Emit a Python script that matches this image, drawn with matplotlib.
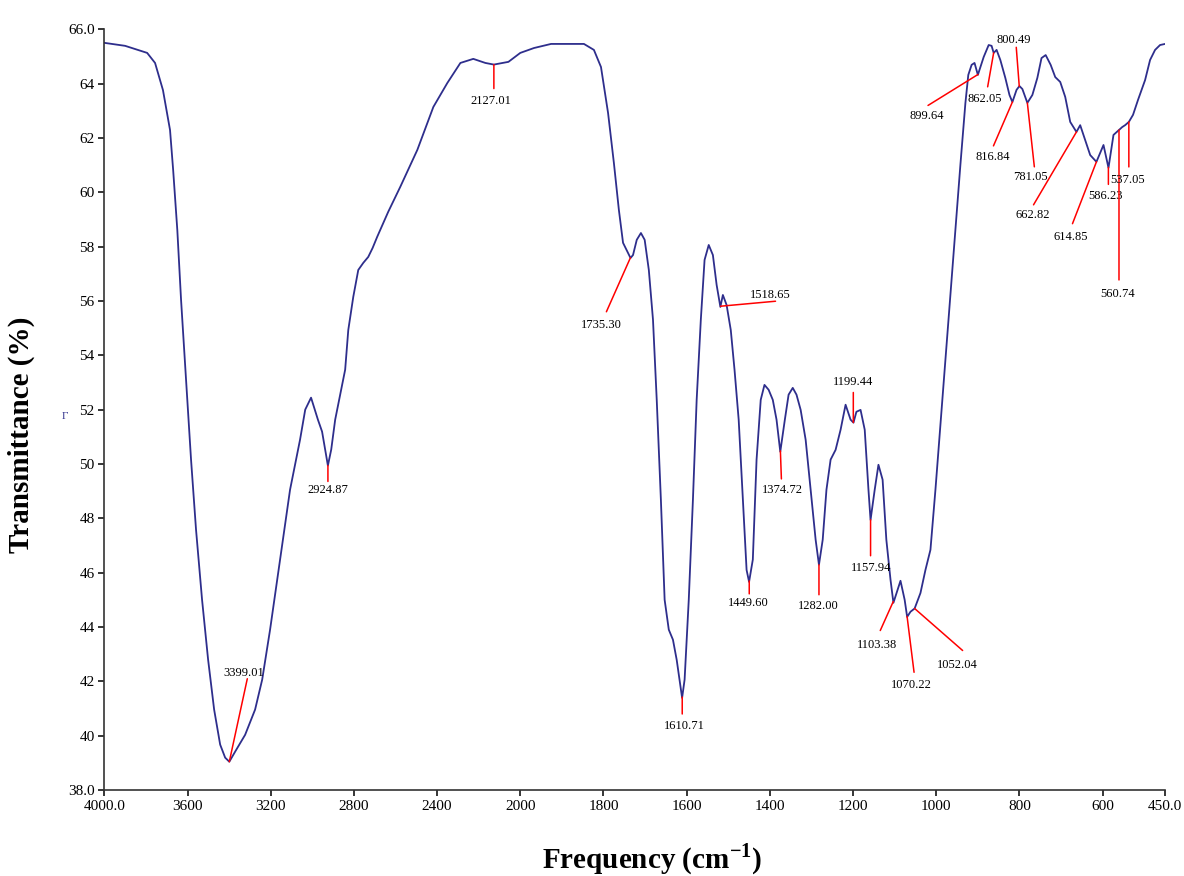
import matplotlib
matplotlib.use('Agg')
import matplotlib.pyplot as plt
import numpy as np

# spectre FTIR (nombre d'onde en cm-1, transmittance en %)
wavenumber = [4000, 3900, 3794, 3756, 3718, 3684, 3669, 3649, 3631, 3607, 3583, 3559,
              3530, 3501, 3472, 3443, 3419, 3399, 3371, 3323, 3275, 3241, 3203, 3155,
              3107, 3059, 3034, 3006, 2973, 2953, 2934, 2925, 2909, 2890, 2866, 2842,
              2827, 2803, 2779, 2755, 2731, 2710, 2688, 2635, 2577, 2495, 2418, 2351,
              2288, 2226, 2168, 2127, 2057, 2000, 1967, 1926, 1847, 1823, 1806, 1789,
              1775, 1763, 1753,
              1735, 1729, 1720, 1710, 1701, 1691, 1681, 1672, 1662, 1653, 1643, 1633,
              1624, 1611, 1605, 1595, 1585, 1576, 1566, 1557, 1547, 1537, 1528, 1519,
              1513, 1504, 1494, 1485, 1475, 1465, 1456, 1450, 1441, 1432, 1422, 1413,
              1403, 1393, 1384, 1375, 1364, 1355, 1345, 1336, 1326, 1314, 1302, 1290,
              1282, 1273, 1264, 1254, 1242, 1230, 1218, 1206, 1199, 1192, 1182, 1172,
              1163, 1158, 1148, 1139, 1129, 1120, 1110, 1103, 1093, 1086, 1076, 1070,
              1062, 1052, 1038, 1026, 1014, 1002, 990, 978, 966, 954, 942, 930,
              923, 915, 908, 900, 886, 874, 867, 862, 855, 846, 834, 824,
              817, 807, 800, 793, 781, 769, 757, 747, 737, 725, 714, 702,
              690, 678, 663, 654, 642, 630, 615, 598, 586, 574, 561, 553,
              546, 537, 527, 515, 498, 486, 474, 462, 450]
transmittance = [65.50, 65.39, 65.13, 64.76, 63.76, 62.29, 60.82, 58.61, 56.04, 53.10, 50.16, 47.58,
                 45.00, 42.80, 40.96, 39.67, 39.19, 39.04, 39.41, 40.03, 40.96, 42.06, 43.90, 46.48,
                 49.05, 50.89, 52.00, 52.44, 51.63, 51.19, 50.34, 49.94, 50.53, 51.63, 52.55, 53.47,
                 54.93, 56.15, 57.14, 57.40, 57.62, 57.95, 58.36, 59.28, 60.20, 61.56, 63.14, 64.02,
                 64.76, 64.91, 64.76, 64.70, 64.80, 65.13, 65.31, 65.46, 65.46, 65.24, 64.61, 62.92,
                 61.08, 59.35, 58.14,
                 57.58, 57.69, 58.25, 58.50, 58.25, 57.14, 55.31, 52.36, 48.68, 45.00, 43.90, 43.53,
                 42.79, 41.39, 42.06, 45.00, 48.68, 52.36, 55.31, 57.51, 58.06, 57.69, 56.59, 55.78,
                 56.22, 55.85, 54.93, 53.47, 51.63, 48.68, 46.10, 45.66, 46.48, 50.16, 52.36, 52.91,
                 52.73, 52.36, 51.63, 50.45, 51.63, 52.55, 52.80, 52.55, 51.99, 50.89, 49.05, 47.21,
                 46.29, 47.21, 49.05, 50.16, 50.52, 51.26, 52.18, 51.63, 51.52, 51.92, 51.99, 51.26,
                 49.05, 47.94, 49.05, 49.97, 49.42, 47.21, 45.74, 44.89, 45.37, 45.70, 45.00, 44.37,
                 44.56, 44.68, 45.25, 46.10, 46.84, 49.05, 51.44, 53.83, 56.22, 58.61, 61.01, 63.28,
                 64.32, 64.69, 64.76, 64.32, 64.98, 65.42, 65.39, 65.13, 65.24, 64.87, 64.21, 63.58,
                 63.32, 63.77, 63.91, 63.80, 63.29, 63.58, 64.21, 64.94, 65.05, 64.69, 64.24, 64.06,
                 63.51, 62.59, 62.22, 62.47, 61.92, 61.37, 61.12, 61.74, 60.90, 62.11, 62.29, 62.40,
                 62.47, 62.59, 62.85, 63.40, 64.13, 64.87, 65.24, 65.42, 65.46]

# pics annotés
peaks = [3399.01, 2924.87, 2127.01, 1735.30, 1518.65, 1610.71, 1449.60, 1374.72,
         1282.00, 1199.44, 1157.94, 1103.38, 1070.22, 1052.04, 899.64, 862.05,
         800.49, 816.84, 781.05, 662.82, 614.85, 586.23, 560.74, 537.05]
peak_labels = ['%.2f' % p for p in peaks]

x_ticks = [4000, 3600, 3200, 2800, 2400, 2000, 1800, 1600, 1400, 1200, 1000, 800, 600, 450]
x_tick_labels = ['4000.0', '3600', '3200', '2800', '2400', '2000', '1800', '1600',
                 '1400', '1200', '1000', '800', '600', '450.0']
y_ticks = [38, 40, 42, 44, 46, 48, 50, 52, 54, 56, 58, 60, 62, 64, 66]
y_tick_labels = ['38.0'] + [str(v) for v in y_ticks[1:-1]] + ['66.0']

# décalages (pixels) : bout du trait rouge, centre du texte
line_off = [(18, 83), (0, -16), (0, -24), (-24, -54), (55, 5), (0, -17), (0, -13), (1, -28),
            (0, -30), (0, 30), (0, -36), (-13, -29), (7, -56), (48, -42), (-50, -31), (-6, -34),
            (-3, 39), (-19, -44), (7, -64), (-43, -73), (-24, -62), (0, -17), (0, -150), (0, -45)]
text_off = [(14, 89), (0, -25), (-3, -36), (-29, -67), (50, 11), (2, -29), (-1, -22), (2, -39),
            (-1, -41), (0, 40), (1, -48), (-16, -43), (4, -69), (43, -56), (-51, -42), (-9, -46),
            (-6, 46), (-20, -55), (3, -74), (-44, -83), (-26, -75), (-3, -29), (-1, -164), (-1, -58)]

plt.rcParams['font.family'] = ['Liberation Serif', 'DejaVu Serif']
plt.rcParams['mathtext.fontset'] = 'custom'
plt.rcParams['mathtext.rm'] = 'Liberation Serif'
plt.rcParams['mathtext.bf'] = 'Liberation Serif:bold'


# échelle du spectromètre : compression x2 au-dessus de 2000 cm-1
def forward(w):
    w = np.asarray(w, dtype=float)
    return np.where(w >= 2000, w / 2 + 1000, w)


def inverse(u):
    u = np.asarray(u, dtype=float)
    return np.where(u >= 2000, (u - 1000) * 2, u)


fig = plt.figure(figsize=(11.84, 8.76), dpi=100)
ax = fig.add_axes([0.0881, 0.0982, 0.8959, 0.8684])
ax.set_xscale('function', functions=(forward, inverse))
ax.plot(wavenumber, transmittance, color='#2e2e8c', lw=1.3)
ax.set_xlim(4000, 450)
ax.set_ylim(38, 66)

wn_inc = np.array(wavenumber)[::-1]
tr_inc = np.array(transmittance)[::-1]
for p, lab, lo, to in zip(peaks, peak_labels, line_off, text_off):
    yp = np.interp(p, wn_inc, tr_inc)
    ax.annotate('', xy=(p, yp), xytext=lo, textcoords='offset pixels',
                arrowprops=dict(arrowstyle='-', color='red', lw=1.1, shrinkA=0, shrinkB=0))
    ax.annotate(lab, xy=(p, yp), xytext=to, textcoords='offset pixels',
                ha='center', va='center', fontsize=9)

ax.set_xticks(x_ticks)
ax.set_xticklabels(x_tick_labels)
ax.set_yticks(y_ticks)
ax.set_yticklabels(y_tick_labels)
ax.minorticks_off()
ax.tick_params(axis='both', direction='out', length=4, width=1.1, labelsize=11, pad=3)

for s in ['top', 'right']:
    ax.spines[s].set_visible(False)
for s in ['left', 'bottom']:
    ax.spines[s].set_linewidth(1.2)
    ax.spines[s].set_color('#333333')

ax.set_xlabel('Frequency (cm$^{\\mathbf{-1}}$)', fontsize=21, fontweight='bold')
ax.set_ylabel('Transmittance (%)', fontsize=21, fontweight='bold')
ax.xaxis.set_label_coords(0.516, -0.068)
ax.yaxis.set_label_coords(-0.065, 0.467)

# petite marque parasite présente sur la figure d'origine
fig.text(0.052, 0.522, 'Γ', color='#2e2e8c', fontsize=8)

plt.savefig('out.png', dpi=100)
plt.close()
